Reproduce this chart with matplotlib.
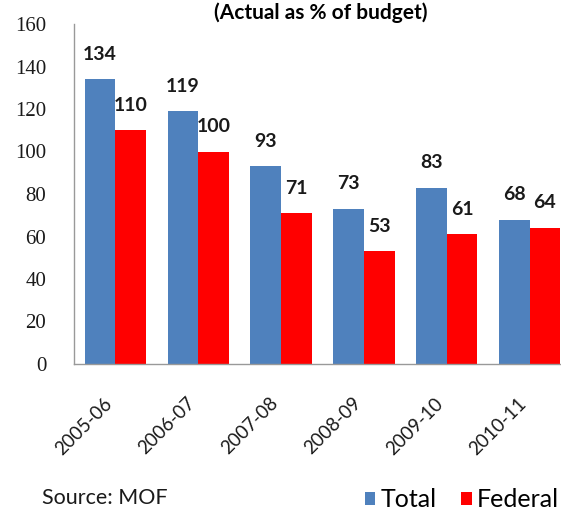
import matplotlib.pyplot as plt
import matplotlib.transforms as mtransforms
import numpy as np

# Datos: ejecución real como % del presupuesto
years = ["2005-06", "2006-07", "2007-08", "2008-09", "2009-10", "2010-11"]
total = [134, 119, 93, 73, 83, 68]
federal = [110, 100, 71, 53, 61, 64]

blue = "#4F81BD"
red = "#FF0000"

fig = plt.figure(figsize=(5.61, 5.13), dpi=100)
ax = fig.add_axes([74 / 561, 149 / 513, 497 / 561, 340 / 513])

x = np.arange(len(years))
w = 0.37
b1 = ax.bar(x - w / 2, total, w, color=blue, label="Total")
b2 = ax.bar(x + w / 2, federal, w, color=red, label="Federal")

# Etiquetas de valor encima de cada barra
for bars, vals in [(b1, total), (b2, federal)]:
    for rect, v in zip(bars, vals):
        ax.annotate(str(v), (rect.get_x() + rect.get_width() / 2, v),
                    xytext=(0, 18), textcoords="offset points",
                    ha="center", va="center", fontsize=14,
                    fontweight="bold", family="Lato", color="#1a1a1a")

ax.set_xlim(-0.5, len(years) - 0.5)
ax.set_ylim(0, 160)
ax.set_yticks(range(0, 161, 20))
ax.set_xticks(x)
ax.set_xticklabels(years, rotation=45, ha="right", family="Lato",
                   fontsize=13.5, color="#1a1a1a")
offset = mtransforms.ScaledTranslation(8 / 100, 0, fig.dpi_scale_trans)
for lbl in ax.get_xticklabels():
    lbl.set_transform(lbl.get_transform() + offset)
for lbl in ax.get_yticklabels():
    lbl.set_family("Liberation Serif")
    lbl.set_fontsize(15)
    lbl.set_color("#1a1a1a")

ax.tick_params(axis="y", length=0, pad=20)
ax.tick_params(axis="x", length=0, pad=22)
for side in ["top", "right"]:
    ax.spines[side].set_visible(False)
for side in ["left", "bottom"]:
    ax.spines[side].set_color("#999999")
    ax.spines[side].set_linewidth(1)

fig.text(0.571, 1 - 2 / 513, "(Actual as % of budget)", ha="center",
         va="top", fontsize=15, fontweight="bold", family="Lato")

fig.text(42 / 561, 5 / 513, "Source: MOF", ha="left", va="bottom",
         fontsize=15.5, family="Lato", color="#1a1a1a")

fig.legend(handles=[b1, b2], loc="lower right",
           bbox_to_anchor=(559 / 561, 2 / 513), ncol=2, frameon=False,
           prop={"family": "Lato", "size": 18},
           handlelength=0.42, handleheight=0.42, handletextpad=0.2,
           columnspacing=1.0, borderaxespad=0, borderpad=0.0)

fig.savefig("out.png", dpi=100)
